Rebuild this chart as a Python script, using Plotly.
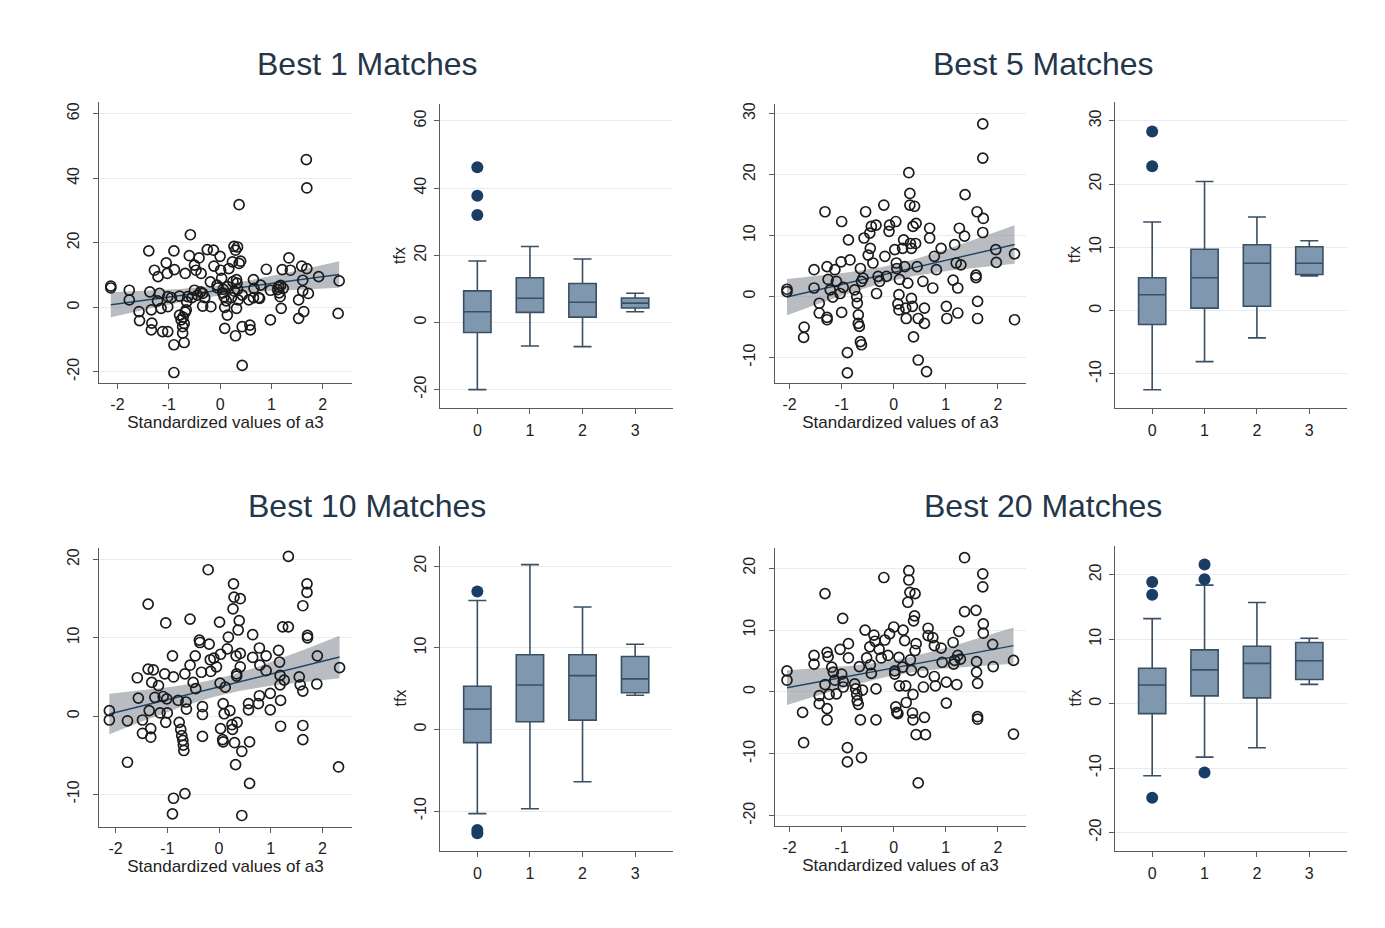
import numpy as np
import plotly.graph_objects as go

# ---------------------------------------------------------------------------
# Data: tfx against standardized a3, and tfx by group (0-3), for four
# matching depths.
# ---------------------------------------------------------------------------
panel_titles = ["Best 1 Matches", "Best 5 Matches", "Best 10 Matches", "Best 20 Matches"]
groups = [0, 1, 2, 3]

best1_pts = [
    (-2.13, 6.6), (-2.13, 6.0), (-1.77, 5.3), (-1.77, 2.3), (-1.58, -1.3), (-1.57, -4.1),
    (-1.39, 17.5), (-1.37, 4.8), (-1.34, -0.8), (-1.33, -4.9), (-1.34, -7.0), (-1.28, 11.5),
    (-1.22, 2.0), (-1.21, 9.5), (-1.18, 4.3), (-1.15, -0.3), (-1.12, -7.5), (-1.05, 13.8),
    (-1.03, 10.5), (-1.02, 3.3), (-1.02, 0.2), (-1.02, -7.5), (-0.95, 3.0), (-0.90, 17.5),
    (-0.89, 11.7), (-0.90, -11.6), (-0.90, -20.2), (-0.79, 3.5), (-0.79, -2.4), (-0.76, -3.9),
    (-0.73, -6.0), (-0.73, -8.0), (-0.72, -3.0), (-0.70, -5.0), (-0.68, -1.5), (-0.70, -10.9),
    (-0.68, 10.5), (-0.66, -0.8), (-0.65, 1.7), (-0.63, 3.3), (-0.58, 22.5), (-0.60, 16.0),
    (-0.55, 3.0), (-0.50, 13.1), (-0.47, 11.5), (-0.50, 5.3), (-0.44, 3.8), (-0.41, 15.3),
    (-0.38, 4.8), (-0.37, 10.5), (-0.34, 4.3), (-0.34, 0.4), (-0.30, 3.0), (-0.25, 17.9),
    (-0.19, 7.9), (-0.18, 0.2), (-0.13, 17.7), (-0.12, 12.8), (-0.06, 6.9), (-0.05, 6.0),
    (0.00, 15.8), (0.01, 11.5), (0.03, 9.0), (0.05, 4.5), (0.06, 5.6), (0.08, 3.3),
    (0.09, 0.0), (0.09, -6.5), (0.12, 2.0), (0.14, -2.4), (0.15, 6.4), (0.17, 12.0),
    (0.22, 3.0), (0.24, 14.1), (0.25, 8.0), (0.27, 18.9), (0.28, 5.0), (0.30, 17.7),
    (0.34, 18.7), (0.32, 8.6), (0.33, 7.5), (0.34, 5.6), (0.37, 31.8), (0.37, 13.6),
    (0.35, 2.3), (0.32, -0.3), (0.30, -8.8), (0.40, 14.3), (0.43, 3.8), (0.43, -6.0),
    (0.43, -18.0), (0.56, 2.3), (0.58, -5.5), (0.59, -7.0), (0.65, 8.6), (0.66, 5.9),
    (0.65, 3.0), (0.75, 3.0), (0.77, 2.8), (0.79, 6.9), (0.90, 11.8), (0.98, -3.9),
    (0.98, 5.3), (1.12, 5.5), (1.14, 6.4), (1.15, 4.5), (1.17, 3.3), (1.18, 6.8),
    (1.19, -0.3), (1.21, 11.7), (1.23, 5.9), (1.34, 15.3), (1.37, 11.5), (1.53, 2.3),
    (1.53, -3.4), (1.59, 12.8), (1.61, 8.4), (1.63, -1.3), (1.61, 5.1), (1.68, 45.8),
    (1.69, 37.0), (1.69, 12.0), (1.72, 4.3), (1.92, 9.5), (2.32, 8.2), (2.30, -1.9),
]

best5_pts = [
    (-2.05, 1.2), (-2.05, 0.8), (-1.72, -5.0), (-1.73, -6.7), (-1.53, 4.4), (-1.53, 1.4),
    (-1.43, -1.1), (-1.43, -2.7), (-1.32, 13.9), (-1.28, 4.9), (-1.28, -3.4), (-1.28, -3.8),
    (-1.26, 2.8), (-1.22, 1.1), (-1.17, -0.1), (-1.13, 4.4), (-1.10, 2.5), (-1.03, 0.5),
    (-1.01, 5.7), (-1.00, -2.6), (-1.00, 12.3), (-0.97, 1.5), (-0.87, 9.3), (-0.84, 6.0),
    (-0.89, -9.2), (-0.89, -12.5), (-0.75, 1.1), (-0.71, 0.0), (-0.70, -1.1), (-0.68, -3.0),
    (-0.68, -4.4), (-0.66, -4.9), (-0.64, -7.4), (-0.62, -7.9), (-0.64, 4.6), (-0.62, 2.5),
    (-0.59, 3.0), (-0.57, 9.6), (-0.54, 13.9), (-0.49, 6.8), (-0.46, 10.4), (-0.45, 7.9),
    (-0.43, 11.5), (-0.40, 5.5), (-0.34, 11.7), (-0.33, 0.5), (-0.30, 3.3), (-0.27, 2.5),
    (-0.19, 15.0), (-0.17, 6.6), (-0.14, 3.3), (-0.09, 10.7), (-0.08, 11.7), (0.02, 7.7),
    (0.04, 12.3), (0.05, 5.5), (0.06, 4.6), (0.08, -1.2), (0.10, -2.2), (0.10, 0.3),
    (0.11, 2.8), (0.17, 7.9), (0.19, 9.3), (0.21, 4.9), (0.23, -1.9), (0.24, -3.6),
    (0.27, 2.2), (0.29, 20.3), (0.31, 16.9), (0.31, 15.0), (0.32, 8.7), (0.34, 7.9),
    (0.34, -0.3), (0.36, -1.6), (0.37, 11.5), (0.38, -6.6), (0.40, 14.8), (0.42, 8.7),
    (0.43, 12.0), (0.45, 4.9), (0.47, -3.6), (0.47, -10.4), (0.56, 2.5), (0.59, -1.9),
    (0.59, -4.4), (0.63, -12.3), (0.69, 11.2), (0.69, 9.6), (0.75, 1.4), (0.78, 6.6),
    (0.82, 4.4), (0.91, 7.9), (1.01, -1.6), (1.02, -3.6), (1.14, 2.7), (1.17, 8.5),
    (1.20, 5.5), (1.23, 1.4), (1.23, -2.7), (1.26, 11.2), (1.29, 5.2), (1.36, 9.9),
    (1.37, 16.7), (1.58, 3.5), (1.58, 3.1), (1.60, 13.9), (1.61, -0.8), (1.61, -3.6),
    (1.71, 28.3), (1.71, 22.7), (1.72, 12.8), (1.71, 10.5), (1.96, 7.7), (1.97, 5.6),
    (2.32, 7.0), (2.32, -3.8),
]

best10_pts = [
    (-2.12, 0.7), (-2.12, -0.5), (-1.77, -0.6), (-1.77, -5.9), (-1.58, 4.9), (-1.56, 2.3),
    (-1.48, -0.5), (-1.48, -2.2), (-1.37, 14.3), (-1.37, 6.0), (-1.35, 0.7), (-1.32, -1.6),
    (-1.32, -2.7), (-1.30, 4.3), (-1.27, 5.9), (-1.24, 2.4), (-1.17, 3.9), (-1.14, 0.4),
    (-1.08, 2.5), (-1.05, 5.4), (-1.03, 11.9), (-1.03, -0.8), (-1.01, 2.2), (-1.00, 0.4),
    (-0.90, 7.7), (-0.88, 5.0), (-0.88, -10.5), (-0.90, -12.5), (-0.79, 2.0), (-0.77, -0.8),
    (-0.74, -1.7), (-0.72, -2.5), (-0.70, -3.1), (-0.69, -3.7), (-0.68, -4.4), (-0.66, -9.9),
    (-0.66, 5.4), (-0.64, 1.8), (-0.63, 0.9), (-0.56, 12.4), (-0.56, 6.5), (-0.50, 4.3),
    (-0.46, 7.7), (-0.45, 3.5), (-0.38, 9.7), (-0.37, 9.4), (-0.34, 5.6), (-0.32, 1.2),
    (-0.32, 0.2), (-0.32, -2.6), (-0.21, 18.7), (-0.19, 9.2), (-0.17, 7.2), (-0.16, 5.7),
    (-0.10, 7.4), (-0.05, 6.3), (0.01, 12.0), (0.03, 7.9), (0.02, 4.2), (0.03, -1.6),
    (0.07, -3.0), (0.08, -3.3), (0.08, 1.6), (0.10, 0.3), (0.12, 3.7), (0.16, 8.6),
    (0.18, 10.1), (0.21, 0.7), (0.25, -1.1), (0.26, -1.7), (0.27, 13.7), (0.28, 16.9),
    (0.29, 15.2), (0.30, -3.4), (0.32, -6.2), (0.33, 7.7), (0.34, 5.4), (0.34, 5.1),
    (0.35, -0.8), (0.37, 11.0), (0.39, 12.2), (0.41, 15.0), (0.41, 8.0), (0.41, 6.3),
    (0.44, -4.5), (0.44, -12.7), (0.57, 1.6), (0.57, 0.8), (0.59, -3.3), (0.59, -8.6),
    (0.65, 10.4), (0.65, 7.5), (0.76, 1.6), (0.78, 2.6), (0.78, 8.7), (0.79, 6.5),
    (0.91, 7.7), (0.91, 5.8), (0.99, 0.8), (0.99, 2.9), (1.15, 8.4), (1.17, 6.9),
    (1.18, 4.0), (1.18, 5.2), (1.19, 2.0), (1.19, -1.3), (1.23, 11.4), (1.34, 11.4),
    (1.34, 20.4), (1.26, 4.6), (1.55, 5.0), (1.57, 4.0), (1.62, 14.1), (1.62, 3.2),
    (1.62, -1.2), (1.62, -3.0), (1.70, 16.9), (1.70, 15.8), (1.71, 10.3), (1.71, 10.0),
    (1.90, 7.7), (1.89, 4.1), (2.33, 6.2), (2.31, -6.5),
]

best20_pts = [
    (-2.05, 3.4), (-2.05, 1.9), (-1.75, -3.3), (-1.73, -8.2), (-1.53, 5.9), (-1.53, 4.5),
    (-1.43, -0.6), (-1.43, -1.9), (-1.32, 15.9), (-1.32, 1.2), (-1.28, 6.4), (-1.26, 5.7),
    (-1.28, -2.7), (-1.28, -4.5), (-1.24, -0.4), (-1.19, 4.0), (-1.16, 3.2), (-1.13, 1.9),
    (-1.10, -0.3), (-1.03, 6.9), (-1.00, 2.9), (-0.98, 11.9), (-0.97, 1.7), (-0.97, 0.8),
    (-0.87, 7.8), (-0.87, 5.5), (-0.89, -9.0), (-0.89, -11.3), (-0.75, 1.3), (-0.73, 0.5),
    (-0.71, -0.4), (-0.70, -1.4), (-0.68, -2.0), (-0.66, 4.1), (-0.64, -4.5), (-0.62, -10.6),
    (-0.60, 0.3), (-0.55, 10.0), (-0.52, 5.5), (-0.46, 7.3), (-0.45, 4.4), (-0.43, 3.0),
    (-0.38, 9.2), (-0.36, 8.2), (-0.34, 0.5), (-0.34, -4.5), (-0.28, 6.9), (-0.24, 5.5),
    (-0.19, 18.5), (-0.17, 8.4), (-0.11, 5.9), (-0.08, 9.4), (0.00, 10.5), (0.02, 3.4),
    (0.02, 2.9), (0.04, -2.4), (0.06, -3.3), (0.08, -3.5), (0.10, 5.6), (0.11, 1.0),
    (0.17, 4.0), (0.18, 10.0), (0.21, 8.3), (0.23, 1.0), (0.24, -1.7), (0.27, 14.5),
    (0.29, 19.6), (0.29, 18.1), (0.31, 16.1), (0.32, 5.2), (0.34, 3.5), (0.36, -3.4),
    (0.37, -4.5), (0.37, -0.4), (0.38, 11.5), (0.40, 12.3), (0.41, 15.9), (0.41, 6.7),
    (0.43, 7.8), (0.43, -6.9), (0.47, -14.7), (0.56, 3.2), (0.57, 0.8), (0.59, -4.1),
    (0.61, -6.9), (0.66, 10.3), (0.66, 9.1), (0.75, 8.8), (0.78, 7.5), (0.78, 2.5),
    (0.80, 1.0), (0.91, 7.1), (0.93, 4.8), (1.01, 1.6), (1.01, -1.8), (1.14, 8.0),
    (1.15, 4.5), (1.17, 5.1), (1.21, 1.2), (1.23, 5.9), (1.25, 9.8), (1.28, 5.3),
    (1.36, 13.0), (1.36, 21.7), (1.58, 13.2), (1.59, 4.9), (1.59, 3.2), (1.61, 1.4),
    (1.61, -4.0), (1.61, -4.4), (1.71, 19.1), (1.71, 17.0), (1.72, 11.0), (1.72, 9.5),
    (1.90, 7.7), (1.91, 4.1), (2.30, 5.1), (2.30, -6.8),
]

# Box-plot summaries by group: lower whisker, Q1, median, Q3, upper whisker
best1_lo = [-20.0, -7.0, -7.2, 3.2]
best1_q1 = [-3.0, 3.0, 1.6, 4.3]
best1_med = [3.2, 7.2, 6.0, 5.75]
best1_q3 = [9.4, 13.3, 11.6, 7.3]
best1_hi = [18.3, 22.6, 18.9, 8.7]
best1_out_g = [0, 0, 0]
best1_out_y = [46.2, 37.7, 32.0]

best5_lo = [-12.5, -8.05, -4.3, 5.5]
best5_q1 = [-2.2, 0.4, 0.7, 5.7]
best5_med = [2.5, 5.2, 7.5, 7.5]
best5_q3 = [5.2, 9.7, 10.4, 10.1]
best5_hi = [14.0, 20.4, 14.8, 11.05]
best5_out_g = [0, 0]
best5_out_y = [28.3, 22.8]

best10_lo = [-10.3, -9.7, -6.4, 4.2]
best10_q1 = [-1.6, 0.95, 1.15, 4.5]
best10_med = [2.5, 5.45, 6.6, 6.2]
best10_q3 = [5.3, 9.15, 9.15, 8.95]
best10_hi = [15.8, 20.2, 15.0, 10.45]
best10_out_g = [0, 0, 0]
best10_out_y = [16.9, -12.3, -12.7]

best20_lo = [-11.2, -8.3, -6.85, 3.0]
best20_q1 = [-1.55, 1.2, 0.9, 3.75]
best20_med = [2.9, 5.25, 6.25, 6.65]
best20_q3 = [5.5, 8.35, 8.9, 9.5]
best20_hi = [13.2, 18.4, 15.7, 10.15]
best20_out_g = [0, 0, 0, 1, 1, 1]
best20_out_y = [18.9, 16.9, -14.6, 21.6, 19.3, -10.7]

# ---------------------------------------------------------------------------
# Page geometry (pixels) and styling
# ---------------------------------------------------------------------------
W, H = 1385, 928
FONT = "Liberation Sans, Arial, sans-serif"
TEXT = "#222222"
AXIS = "#5a5a5a"
GRID = "#e9ecef"
NAVY = "#1a476f"
BOX_FILL = "#7f98b0"
BOX_LINE = "#3a4f63"

panels = [
    dict(title=panel_titles[0], pts=best1_pts,
         box=(best1_lo, best1_q1, best1_med, best1_q3, best1_hi), out=(best1_out_g, best1_out_y),
         title_xy=(367, 62),
         sc_px=(99, 352, 100, 382), sc_xr=[-2.36, 2.57], sc_yr=[-23.5, 63.7], sc_ticks=[-20, 0, 20, 40, 60],
         bx_px=(440, 673, 102, 407), bx_yr=[-25.5, 65.1], bx_ticks=[-20, 0, 20, 40, 60]),
    dict(title=panel_titles[1], pts=best5_pts,
         box=(best5_lo, best5_q1, best5_med, best5_q3, best5_hi), out=(best5_out_g, best5_out_y),
         title_xy=(1043, 62),
         sc_px=(775, 1026, 102, 382), sc_xr=[-2.28, 2.54], sc_yr=[-14.2, 31.6], sc_ticks=[-10, 0, 10, 20, 30],
         bx_px=(1115, 1347, 100, 407), bx_yr=[-15.4, 33.0], bx_ticks=[-10, 0, 10, 20, 30]),
    dict(title=panel_titles[2], pts=best10_pts,
         box=(best10_lo, best10_q1, best10_med, best10_q3, best10_hi), out=(best10_out_g, best10_out_y),
         title_xy=(367, 505),
         sc_px=(99, 352, 547, 827), sc_xr=[-2.32, 2.57], sc_yr=[-14.2, 21.5], sc_ticks=[-10, 0, 10, 20],
         bx_px=(440, 673, 545, 851), bx_yr=[-14.9, 22.5], bx_ticks=[-10, 0, 10, 20]),
    dict(title=panel_titles[3], pts=best20_pts,
         box=(best20_lo, best20_q1, best20_med, best20_q3, best20_hi), out=(best20_out_g, best20_out_y),
         title_xy=(1043, 505),
         sc_px=(775, 1026, 547, 826), sc_xr=[-2.28, 2.54], sc_yr=[-21.7, 23.3], sc_ticks=[-20, -10, 0, 10, 20],
         bx_px=(1115, 1347, 545, 851), bx_yr=[-22.9, 24.5], bx_ticks=[-20, -10, 0, 10, 20]),
]


def xdom(l, r):
    return [l / W, r / W]


def ydom(t, b):
    return [1 - b / H, 1 - t / H]


def tick_text(vals):
    # plain hyphen-minus labels
    return [str(v) for v in vals]


def axis_common():
    return dict(
        showline=True, linecolor=AXIS, linewidth=1,
        ticks="outside", ticklen=5, tickcolor=AXIS, tickwidth=1,
        tickfont=dict(family=FONT, size=16, color=TEXT),
        zeroline=False, fixedrange=True,
    )


fig = go.Figure()
annotations = []
a3_ticks = [-2, -1, 0, 1, 2]

for k, p in enumerate(panels):
    ns, nb = 2 * k + 1, 2 * k + 2
    xs_ref = "x" if ns == 1 else f"x{ns}"
    ys_ref = "y" if ns == 1 else f"y{ns}"
    xb_ref, yb_ref = f"x{nb}", f"y{nb}"

    a3 = np.array([q[0] for q in p["pts"]])
    tfx = np.array([q[1] for q in p["pts"]])

    # Linear fit with 95% confidence band for the mean prediction
    n = len(a3)
    slope, icpt = np.polyfit(a3, tfx, 1)
    resid = tfx - (icpt + slope * a3)
    s = np.sqrt(np.sum(resid ** 2) / (n - 2))
    sxx = np.sum((a3 - a3.mean()) ** 2)
    grid = np.linspace(a3.min(), a3.max(), 60)
    fit = icpt + slope * grid
    se = s * np.sqrt(1.0 / n + (grid - a3.mean()) ** 2 / sxx)
    tcrit = 1.98
    upper, lower = fit + tcrit * se, fit - tcrit * se

    fig.add_trace(go.Scatter(
        x=np.concatenate([grid, grid[::-1]]), y=np.concatenate([upper, lower[::-1]]),
        fill="toself", fillcolor="rgba(135,142,150,0.58)", line=dict(width=0),
        mode="lines", hoverinfo="skip", showlegend=False, xaxis=xs_ref, yaxis=ys_ref))
    fig.add_trace(go.Scatter(
        x=grid, y=fit, mode="lines", line=dict(color=NAVY, width=1.4),
        hoverinfo="skip", showlegend=False, xaxis=xs_ref, yaxis=ys_ref))
    fig.add_trace(go.Scatter(
        x=a3, y=tfx, mode="markers",
        marker=dict(symbol="circle-open", size=10, color="#1b1b1b", line=dict(width=1.7)),
        showlegend=False, xaxis=xs_ref, yaxis=ys_ref))

    lo, q1, med, q3, hi = p["box"]
    fig.add_trace(go.Box(
        x=groups, lowerfence=lo, q1=q1, median=med, q3=q3, upperfence=hi,
        width=0.52, whiskerwidth=0.66, fillcolor=BOX_FILL,
        line=dict(color=BOX_LINE, width=1.6), boxpoints=False,
        showlegend=False, xaxis=xb_ref, yaxis=yb_ref))
    og, oy = p["out"]
    fig.add_trace(go.Scatter(
        x=og, y=oy, mode="markers",
        marker=dict(symbol="circle", size=12, color="#1a3d66"),
        showlegend=False, xaxis=xb_ref, yaxis=yb_ref))

    l, r, t, b = p["sc_px"]
    sx = axis_common()
    sx.update(domain=xdom(l, r), range=p["sc_xr"], tickvals=a3_ticks, ticktext=tick_text(a3_ticks),
              showgrid=False, anchor=ys_ref, ticklabelstandoff=2,
              title=dict(text="Standardized values of a3", standoff=0,
                         font=dict(family=FONT, size=17, color=TEXT)))
    sy = axis_common()
    sy.update(domain=ydom(t, b), range=p["sc_yr"], tickvals=p["sc_ticks"],
              ticktext=tick_text(p["sc_ticks"]), tickangle=-90,
              showgrid=True, gridcolor=GRID, gridwidth=1, anchor=xs_ref, ticklabelstandoff=8)

    l, r, t, b = p["bx_px"]
    bx = axis_common()
    bx.update(domain=xdom(l, r), range=[-0.71, 3.72], tickvals=groups,
              showgrid=False, anchor=yb_ref, ticklabelstandoff=3)
    by = axis_common()
    by.update(domain=ydom(t, b), range=p["bx_yr"], tickvals=p["bx_ticks"],
              ticktext=tick_text(p["bx_ticks"]), tickangle=-90,
              showgrid=True, gridcolor=GRID, gridwidth=1, anchor=xb_ref, ticklabelstandoff=2)

    fig.layout["xaxis" if ns == 1 else f"xaxis{ns}"] = sx
    fig.layout["yaxis" if ns == 1 else f"yaxis{ns}"] = sy
    fig.layout[f"xaxis{nb}"] = bx
    fig.layout[f"yaxis{nb}"] = by

    tx, ty = p["title_xy"]
    annotations.append(dict(
        text=p["title"], x=tx / W, y=1 - ty / H, xref="paper", yref="paper",
        xanchor="center", yanchor="middle", showarrow=False,
        font=dict(family=FONT, size=32, color="#24364a")))
    annotations.append(dict(
        text="tfx", x=(l - 40) / W, y=1 - (t + b) / 2 / H, xref="paper", yref="paper",
        xanchor="center", yanchor="middle", showarrow=False, textangle=-90,
        font=dict(family=FONT, size=16, color=TEXT)))

fig.update_layout(
    width=W, height=H, margin=dict(l=0, r=0, t=0, b=0),
    paper_bgcolor="white", plot_bgcolor="white",
    annotations=annotations, showlegend=False,
)

fig.write_html("out.html")
